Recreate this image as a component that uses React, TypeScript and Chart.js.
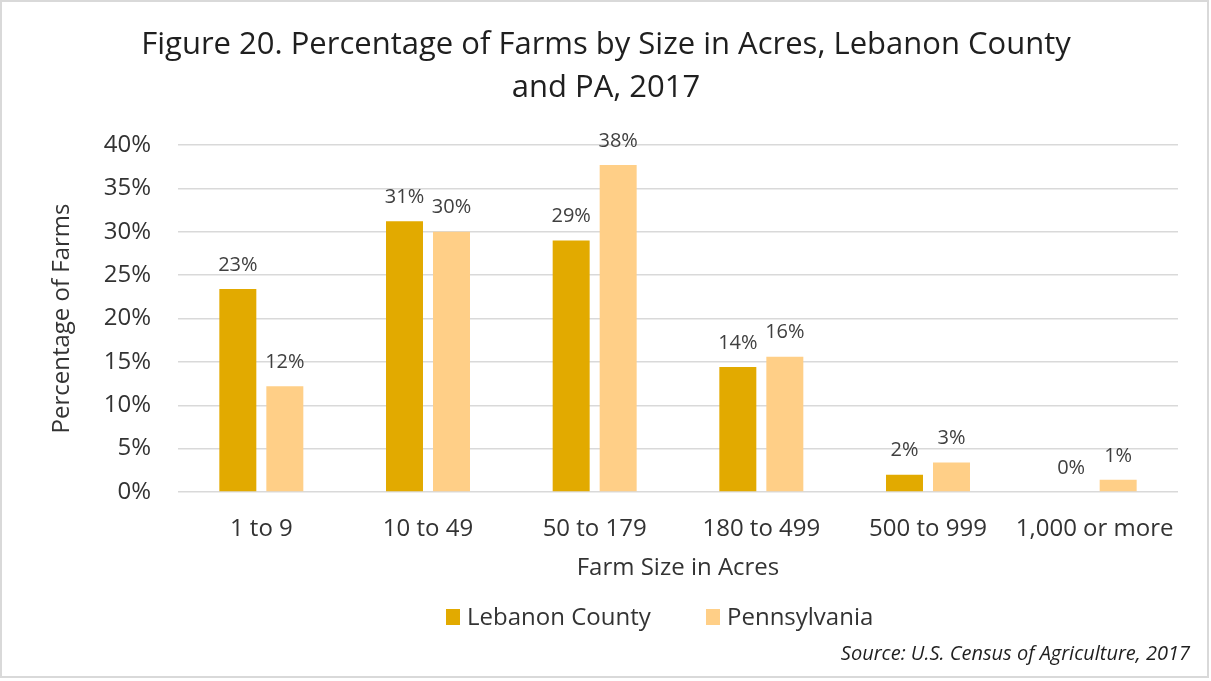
import React, { useEffect, useRef } from "react";
import { Chart, registerables } from "chart.js";

Chart.register(...registerables);

const categories = ["1 to 9", "10 to 49", "50 to 179", "180 to 499", "500 to 999", "1,000 or more"];
const lebanonValues = [23.4, 31.2, 29.0, 14.4, 2.0, 0.0];
const pennsylvaniaValues = [12.2, 30.0, 37.7, 15.6, 3.4, 1.4];
const seriesNames = ["Lebanon County", "Pennsylvania"];
const yTicks = [0, 5, 10, 15, 20, 25, 30, 35, 40];
const titleLines = ["Figure 20. Percentage of Farms by Size in Acres, Lebanon County", "and PA, 2017"];
const xAxisTitle = "Farm Size in Acres";
const yAxisTitle = "Percentage of Farms";
const sourceText = "Source: U.S. Census of Agriculture, 2017";

const FONT = "'Open Sans', 'Noto Sans', sans-serif";
const LEB_COLOR = "#E2AA00";
const PA_COLOR = "#FFCF87";

const decorPlugin = {
  id: "decor",
  beforeDraw(chart: any) {
    const ctx = chart.ctx;
    ctx.save();
    ctx.fillStyle = "#ffffff";
    ctx.fillRect(0, 0, chart.width, chart.height);
    ctx.restore();
  },
  afterDatasetsDraw(chart: any) {
    const ctx = chart.ctx;
    ctx.save();
    ctx.font = `20px ${FONT}`;
    ctx.fillStyle = "#404040";
    ctx.textAlign = "center";
    ctx.textBaseline = "middle";
    chart.data.datasets.forEach((ds: any, di: number) => {
      const meta = chart.getDatasetMeta(di);
      meta.data.forEach((el: any, i: number) => {
        const v = ds.data[i];
        ctx.fillText(`${Math.round(v)}%`, el.x, el.y - 24);
      });
    });
    ctx.restore();
  },
  afterDraw(chart: any) {
    const ctx = chart.ctx;
    ctx.save();
    // title
    ctx.fillStyle = "#1f1f1f";
    ctx.font = `31px ${FONT}`;
    ctx.textAlign = "center";
    ctx.textBaseline = "middle";
    ctx.fillText(titleLines[0], 606, 45);
    ctx.fillText(titleLines[1], 606, 88);
    // legend
    const legendX = [446, 706];
    ctx.font = `24px ${FONT}`;
    ctx.textAlign = "left";
    chart.data.datasets.forEach((ds: any, di: number) => {
      ctx.fillStyle = ds.backgroundColor;
      ctx.fillRect(legendX[di], 609, 14, 16);
      ctx.fillStyle = "#333333";
      ctx.fillText(ds.label, legendX[di] + 21, 618);
    });
    // source
    ctx.font = `italic 20px ${FONT}`;
    ctx.textAlign = "right";
    ctx.fillStyle = "#1f1f1f";
    ctx.fillText(sourceText, 1190, 654);
    // border
    ctx.strokeStyle = "#d9d9d9";
    ctx.lineWidth = 2;
    ctx.strokeRect(1, 1, 1207, 676);
    ctx.restore();
  },
};

export default function App() {
  const canvasRef = useRef<HTMLCanvasElement | null>(null);

  useEffect(() => {
    document.body.style.margin = "0";
    const canvas = canvasRef.current;
    if (!canvas) return;
    const chart = new Chart(canvas, {
      type: "bar",
      data: {
        labels: categories,
        datasets: [
          {
            label: seriesNames[0],
            data: lebanonValues,
            backgroundColor: LEB_COLOR,
            categoryPercentage: 0.564,
            barPercentage: 0.787,
          },
          {
            label: seriesNames[1],
            data: pennsylvaniaValues,
            backgroundColor: PA_COLOR,
            categoryPercentage: 0.564,
            barPercentage: 0.787,
          },
        ],
      },
      options: {
        responsive: false,
        animation: false,
        layout: { padding: { top: 145, left: 0, right: 33, bottom: 98.6 } },
        plugins: {
          legend: { display: false },
          title: { display: false },
          tooltip: { enabled: false },
        },
        scales: {
          x: {
            grid: { display: false },
            border: { display: false },
            ticks: {
              color: "#333333",
              font: { family: FONT, size: 24 },
              padding: 14.5,
              maxRotation: 0,
              autoSkip: false,
            },
            title: {
              display: true,
              text: xAxisTitle,
              color: "#333333",
              font: { family: FONT, size: 24 },
              padding: { top: 0, bottom: 0 },
            },
            afterFit(scale: any) {
              scale.height = 90.4;
            },
          },
          y: {
            min: 0,
            max: 40,
            afterBuildTicks(scale: any) {
              scale.ticks = yTicks.map((v) => ({ value: v }));
            },
            grid: { color: "#d9d9d9", lineWidth: 1.5, drawTicks: false },
            border: { display: false },
            ticks: {
              color: "#333333",
              font: { family: FONT, size: 24 },
              padding: 27,
              callback: (v: any) => `${v}%`,
            },
            title: {
              display: true,
              text: yAxisTitle,
              color: "#333333",
              font: { family: FONT, size: 24 },
              padding: { top: 48, bottom: 0 },
            },
            afterFit(scale: any) {
              scale.width = 178;
            },
          },
        },
      },
      plugins: [decorPlugin],
    });
    return () => chart.destroy();
  }, []);

  return (
    <div style={{ width: 1211, height: 681, position: "relative", background: "#fff" }}>
      <canvas ref={canvasRef} width={1211} height={681} style={{ display: "block" }} />
    </div>
  );
}
